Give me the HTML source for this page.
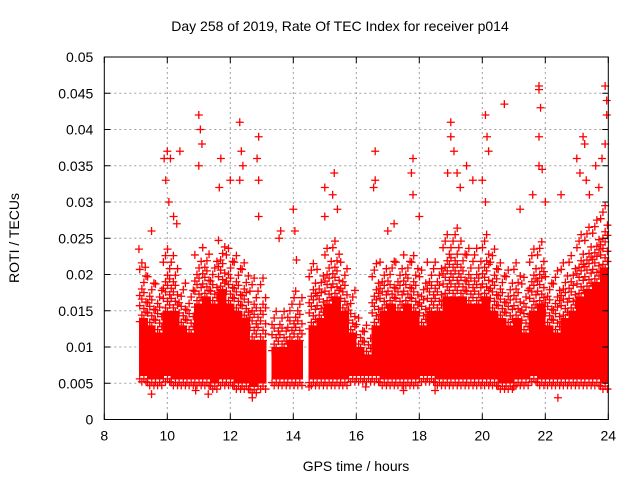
<!DOCTYPE html>
<html><head><meta charset="utf-8"><style>
body{margin:0;background:#fff;}
svg{display:block;font-family:"Liberation Sans",sans-serif;}
</style></head><body>
<svg id="chart" width="640" height="480" viewBox="0 0 640 480" xmlns="http://www.w3.org/2000/svg">
<rect width="640" height="480" fill="#fff"/>
<text x="340" y="31" font-size="14" text-anchor="middle">Day 258 of 2019, Rate Of TEC Index for receiver p014</text>
<text transform="translate(19,238) rotate(-90)" font-size="14" text-anchor="middle">ROTI / TECUs</text>
<text x="356" y="471" font-size="14" text-anchor="middle">GPS time / hours</text>
<g id="grid"></g><g id="band" shape-rendering="crispEdges"></g><g id="marks"></g><g id="axes"></g>
</svg>
<script>
const xTicks=[8,10,12,14,16,18,20,22,24];
const yTicks=[0,0.005,0.01,0.015,0.02,0.025,0.03,0.035,0.04,0.045,0.05];
const yTickLabels=["0","0.005","0.01","0.015","0.02","0.025","0.03","0.035","0.04","0.045","0.05"];
const binStart=[9.10,9.35,9.60,9.85,10.10,10.35,10.60,10.85,11.10,11.35,11.60,11.85,12.10,12.35,12.60,12.85,13.30,13.55,13.80,14.05,14.48,14.73,14.98,15.23,15.48,15.73,15.98,16.23,16.48,16.73,16.98,17.23,17.48,17.73,17.98,18.23,18.48,18.73,18.98,19.23,19.48,19.73,19.98,20.23,20.48,20.73,20.98,21.23,21.48,21.73,21.98,22.23,22.48,22.73,22.98,23.23,23.48,23.73];
const binEnd=[9.35,9.60,9.85,10.10,10.35,10.60,10.85,11.10,11.35,11.60,11.85,12.10,12.35,12.60,12.85,13.15,13.55,13.80,14.05,14.30,14.73,14.98,15.23,15.48,15.73,15.98,16.23,16.48,16.73,16.98,17.23,17.48,17.73,17.98,18.23,18.48,18.73,18.98,19.23,19.48,19.73,19.98,20.23,20.48,20.73,20.98,21.23,21.48,21.73,21.98,22.23,22.48,22.73,22.98,23.23,23.48,23.73,24.0];
const denseTop=[0.014,0.013,0.012,0.015,0.015,0.013,0.012,0.016,0.017,0.016,0.018,0.016,0.015,0.014,0.011,0.011,0.010,0.010,0.011,0.011,0.013,0.014,0.016,0.017,0.015,0.012,0.010,0.009,0.013,0.015,0.016,0.015,0.016,0.015,0.013,0.015,0.015,0.017,0.017,0.017,0.016,0.016,0.017,0.015,0.014,0.013,0.014,0.012,0.015,0.016,0.013,0.012,0.014,0.015,0.017,0.018,0.019,0.021];
const sparseTop=[0.022,0.020,0.019,0.024,0.023,0.019,0.018,0.023,0.024,0.022,0.025,0.024,0.023,0.022,0.020,0.020,0.015,0.015,0.017,0.018,0.022,0.021,0.024,0.025,0.022,0.018,0.014,0.013,0.022,0.022,0.022,0.022,0.023,0.023,0.021,0.022,0.022,0.026,0.027,0.025,0.024,0.024,0.026,0.024,0.022,0.021,0.022,0.020,0.024,0.025,0.020,0.021,0.022,0.023,0.026,0.027,0.028,0.030];
const bandLow=[0.006,0.0055,0.0055,0.006,0.0055,0.0055,0.0055,0.0055,0.0055,0.005,0.0055,0.0055,0.005,0.005,0.0045,0.005,0.0055,0.0055,0.0055,0.0055,0.0055,0.0055,0.0055,0.0055,0.0055,0.006,0.006,0.006,0.006,0.0055,0.0055,0.0055,0.0055,0.0055,0.006,0.006,0.0055,0.0055,0.0055,0.0055,0.0055,0.0055,0.0055,0.0055,0.005,0.005,0.0055,0.0055,0.006,0.0055,0.0055,0.0055,0.0055,0.0055,0.0055,0.0055,0.0055,0.005];
const outT=[9.1,9.3,9.5,9.9,9.95,10.0,10.1,10.4,10.05,10.2,10.3,11.0,11.05,11.1,11.0,11.7,11.65,12.0,12.3,12.35,12.4,12.3,12.9,12.85,12.9,12.9,13.6,13.55,14.0,14.05,14.1,15.0,15.3,15.25,15.4,15.0,16.6,16.6,16.55,17.0,17.2,17.8,17.75,17.8,18.0,19.0,19.0,19.1,19.2,19.3,18.9,19.5,19.7,20.0,20.1,20.15,20.2,20.1,20.7,21.2,21.6,21.8,21.8,21.85,21.8,21.8,21.9,22.0,22.5,23.0,23.1,23.2,23.25,23.4,23.3,23.6,23.9,23.95,23.95,23.9,23.8,23.7,9.5,11.3,12.7,16.3,18.5,21.0,22.4,10.9,14.5,17.5];
const outV=[0.0235,0.021,0.026,0.036,0.033,0.037,0.036,0.037,0.030,0.028,0.027,0.042,0.040,0.038,0.035,0.036,0.032,0.033,0.041,0.037,0.035,0.033,0.039,0.036,0.033,0.028,0.026,0.025,0.029,0.026,0.022,0.032,0.034,0.031,0.029,0.028,0.037,0.033,0.032,0.026,0.027,0.036,0.034,0.031,0.028,0.041,0.039,0.037,0.034,0.032,0.034,0.035,0.033,0.033,0.042,0.039,0.037,0.030,0.0435,0.029,0.031,0.046,0.0455,0.043,0.035,0.039,0.0345,0.030,0.031,0.036,0.034,0.039,0.038,0.031,0.033,0.035,0.046,0.044,0.042,0.038,0.036,0.032,0.0035,0.0035,0.003,0.0045,0.004,0.0045,0.003,0.004,0.0045,0.004];

const X0=104.3,X1=608.3,Y0=419.5,Y1=57;
const xs=t=>X0+(t-8)/16*(X1-X0);
const ys=v=>Y0-v/0.05*(Y0-Y1);
const NS="http://www.w3.org/2000/svg";
function mk(tag,attrs,parent){const e=document.createElementNS(NS,tag);for(const k in attrs)e.setAttribute(k,attrs[k]);parent.appendChild(e);return e;}
const grid=document.getElementById('grid'),band=document.getElementById('band'),marks=document.getElementById('marks'),axes=document.getElementById('axes');
xTicks.forEach((t,i)=>{
  if(i>0&&i<xTicks.length-1){const g=mk('line',{x1:xs(t),x2:xs(t),y1:Y1,y2:Y0,stroke:'#a0a0a0','stroke-dasharray':'2,3'},grid);
  
  }
  const a=mk('line',{x1:xs(t),x2:xs(t),y1:Y0,y2:Y0-6,stroke:'#000'},axes);
  
  
  mk('line',{x1:xs(t),x2:xs(t),y1:Y1,y2:Y1+6,stroke:'#000'},axes);
  const l=mk('text',{x:xs(t),y:Y0+21,'font-size':14,'text-anchor':'middle'},axes);l.textContent=t;
  
  
});
yTicks.forEach((v,i)=>{
  if(i>0&&i<yTicks.length-1){const g=mk('line',{x1:X0,x2:X1,y1:ys(v),y2:ys(v),stroke:'#a0a0a0','stroke-dasharray':'2,3'},grid);
  
  }
  const a=mk('line',{x1:X0,x2:X0+6,y1:ys(v),y2:ys(v),stroke:'#000'},axes);
  
  
  mk('line',{x1:X1,x2:X1-6,y1:ys(v),y2:ys(v),stroke:'#000'},axes);
  const l=mk('text',{x:X0-11,y:ys(v)+5,'font-size':14,'text-anchor':'end'},axes);l.textContent=yTickLabels[i];
  
  
});
const fr=mk('rect',{x:X0,y:Y1,width:X1-X0,height:Y0-Y1,fill:'none',stroke:'#000'},axes);


function plus(x,y,parent,col){
  const p=mk('path',{d:`M${x-4},${y}h8M${x},${y-4}v8`,stroke:col||'#f00','stroke-width':1.3,fill:'none'},parent);
  
  
  return p;
}
binStart.forEach((t0,i)=>{
  const t1=binEnd[i];
  const contiguous=i+1<binStart.length&&Math.abs(binStart[i+1]-t1)<0.01;
  const r=mk('rect',{x:xs(t0),y:ys(denseTop[i]),width:xs(t1)-xs(t0)+(contiguous?1:0),height:ys(bandLow[i])-ys(denseTop[i]),fill:'#f00'},band);
  
  
  const w=t1-t0;
  const offs=[0.1,0.37,0.63,0.9];
  offs.forEach((o,j)=>plus(xs(t0+w*o),ys(bandLow[i]-0.0004*(j%2+1)),marks));
  let k=0;
  for(let v=denseTop[i]-0.0005;v<=sparseTop[i];v+=0.0009){
    const o=offs[k%4];k++;
    plus(xs(t0+w*o),ys(v),marks);
    if(v<(denseTop[i]+sparseTop[i])/2) plus(xs(t0+w*offs[(k+1)%4]),ys(v+0.0004),marks);
  }
});
outT.forEach((t,i)=>plus(xs(t),ys(outV[i]),marks));
</script>
</body></html>
